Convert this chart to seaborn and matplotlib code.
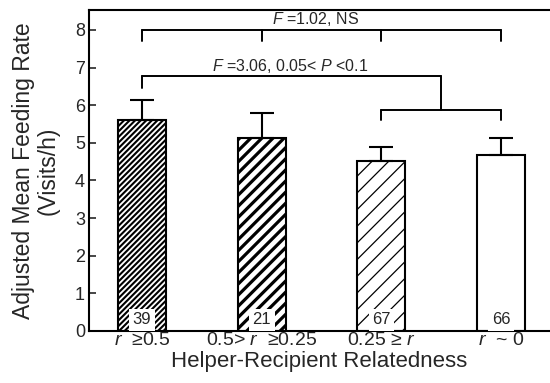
import matplotlib
matplotlib.use("Agg")
import matplotlib.pyplot as plt
import seaborn as sns
import numpy as np
import pandas as pd

groups = [r"$\it{r}$  ≥0.5", r"0.5> $\it{r}$  ≥0.25", r"0.25 ≥ $\it{r}$", r"$\it{r}$  ~ 0"]
rate = [5.61, 5.12, 4.52, 4.68]
se = [0.53, 0.68, 0.37, 0.45]
n_obs = [39, 21, 67, 66]
hatches = ["//////", "///", "//", ""]
hatch_lw = [1.5, 2.3, 0.9, 1.0]

sns.set_style("ticks")
plt.rcParams['font.family'] = ['Liberation Sans', 'DejaVu Sans']
plt.rcParams['mathtext.fontset'] = 'custom'
plt.rcParams['mathtext.rm'] = 'Liberation Sans'
plt.rcParams['mathtext.it'] = 'Liberation Sans:italic'
plt.rcParams['hatch.color'] = 'black'

df = pd.DataFrame({'group': groups, 'rate': rate})

fig = plt.figure(figsize=(5.5, 3.83), dpi=100)
ax = fig.add_axes([0.162, 0.136, 0.838, 0.838])

sns.barplot(data=df, x='group', y='rate', color='white', edgecolor='black',
            linewidth=1.5, width=0.4, ax=ax, errorbar=None)
for p, h, lw in zip(ax.patches, hatches, hatch_lw):
    p.set_hatch(h)
    if hasattr(p, 'set_hatch_linewidth'):
        p.set_hatch_linewidth(lw)

xs = np.arange(len(groups))
ax.errorbar(xs, rate, yerr=[np.zeros(len(se)), se], fmt='none', ecolor='black',
            elinewidth=1.5, capsize=8.6, capthick=1.5)

for x, n in zip(xs, n_obs):
    ax.text(x, 0.3, str(n), ha='center', va='center', fontsize=12,
            bbox=dict(facecolor='white', edgecolor='none', pad=2.5))

# brackets
k = dict(color='black', lw=1.4)
ax.plot([0, 3], [8.0, 8.0], **k)
for x in xs:
    ax.plot([x, x], [8.0, 7.7], **k)
ax.text(1.45, 8.28, r"$\it{F}$ =1.02, NS", ha='center', va='center', fontsize=11.5)

ax.plot([0, 2.5], [6.78, 6.78], **k)
ax.plot([0, 0], [6.78, 6.45], **k)
ax.plot([2.5, 2.5], [6.78, 5.88], **k)
ax.plot([2, 3], [5.88, 5.88], **k)
ax.plot([2, 2], [5.88, 5.6], **k)
ax.plot([3, 3], [5.88, 5.6], **k)
ax.text(1.24, 7.05, r"$\it{F}$ =3.06, 0.05< $\it{P}$ <0.1", ha='center', va='center', fontsize=11.5)

ax.set_xlim(-0.443, 3.41)
ax.set_ylim(0, 8.53)
ax.set_yticks(range(0, 9))
ax.tick_params(axis='y', direction='in', length=5, width=1.2, labelsize=13, pad=3)
ax.tick_params(axis='x', length=0, labelsize=14, pad=1)
ax.set_xlabel("Helper-Recipient Relatedness", fontsize=16, labelpad=1)
ax.set_ylabel("Adjusted Mean Feeding Rate\n(Visits/h)", fontsize=16.5, linespacing=1.1, labelpad=11)
for s in ['left', 'bottom', 'top']:
    ax.spines[s].set_linewidth(1.5)
    ax.spines[s].set_color('black')
ax.spines['right'].set_visible(False)

fig.savefig("out.png", dpi=100)
